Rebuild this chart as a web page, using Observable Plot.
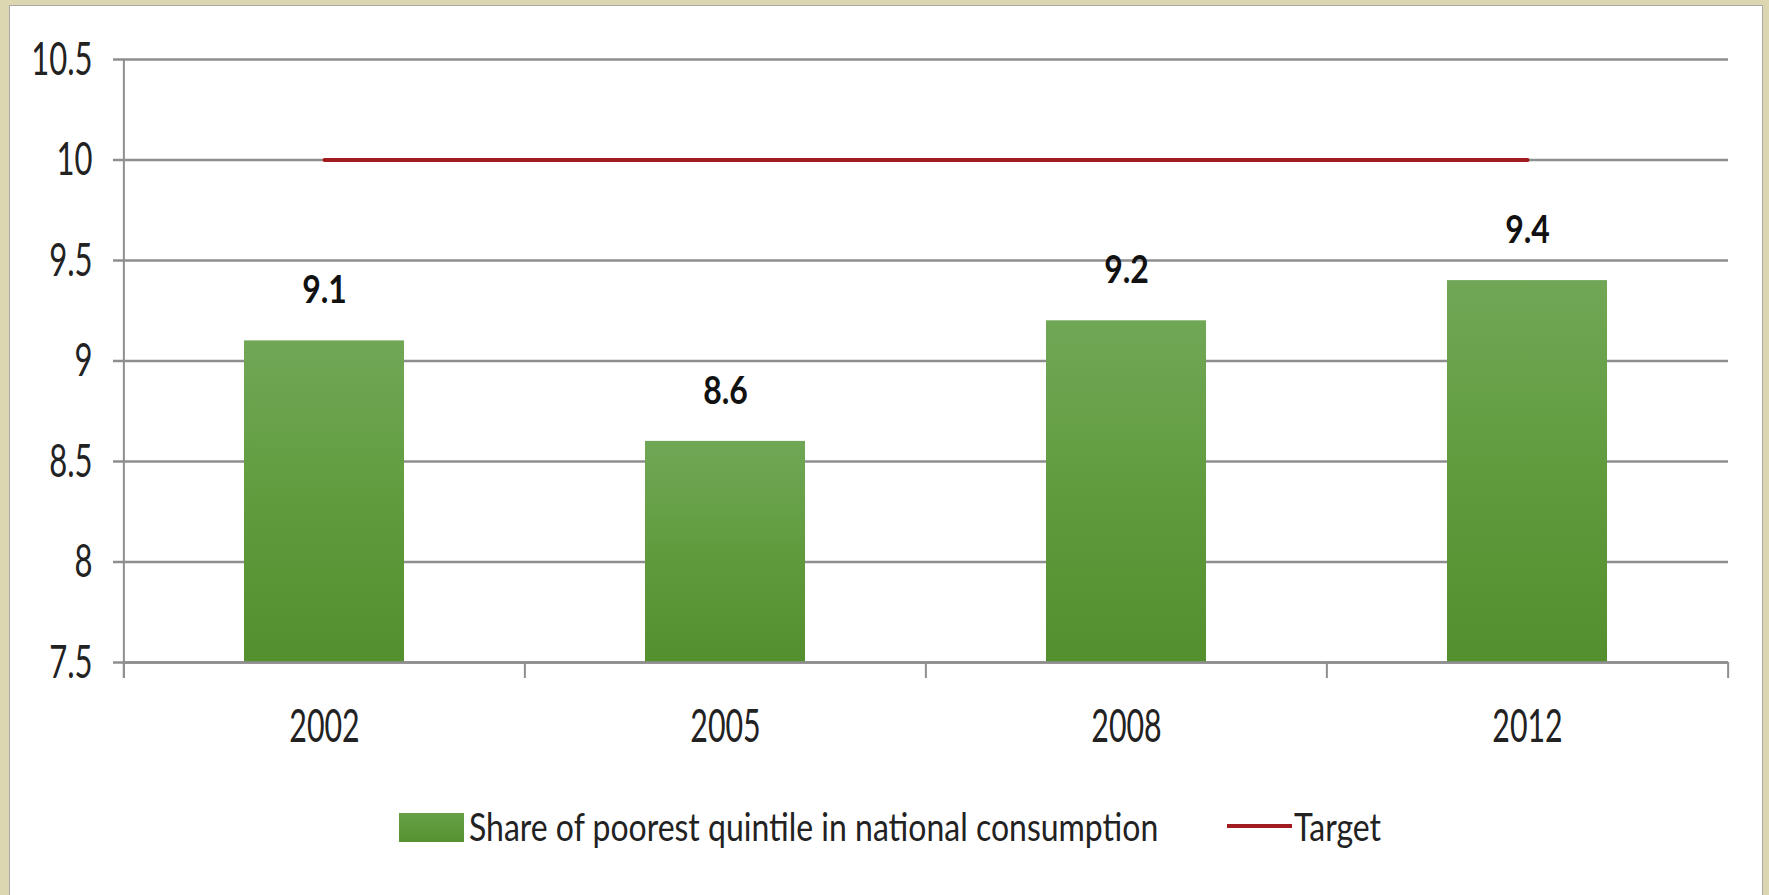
<!DOCTYPE html>
<html>
<head>
<meta charset="utf-8">
<script src="https://cdn.jsdelivr.net/npm/d3@7"></script>
<script src="https://cdn.jsdelivr.net/npm/@observablehq/plot@0.6"></script>
<style>
  html, body { margin: 0; padding: 0; }
  body { width: 1769px; height: 895px; background: #ddd7b1; overflow: hidden; position: relative; font-family: Lato, "Open Sans", sans-serif; }
  #panel { position: absolute; left: 9px; top: 5px; width: 1752px; height: 900px; background: #fff; border: 1px solid #a8a8a8; }
  #chart { position: absolute; left: 0; top: 0; }
  .leg { position: absolute; }
  .legtext { position: absolute; font-family: Lato, sans-serif; font-size: 39px; color: #222; white-space: nowrap; display: inline-block; transform-origin: left center; line-height: 1; }
</style>
</head>
<body>
<div id="panel">
  <div id="chart"></div>
</div>
<script>
// ---- data ----
const years = ["2002", "2005", "2008", "2012"];
const shares = [9.1, 8.6, 9.2, 9.4];
const targets = [10, 10, 10, 10];
const yTicks = [7.5, 8, 8.5, 9, 9.5, 10, 10.5];
const yDomain = [7.5, 10.5];
const seriesNames = ["Share of poorest quintile in national consumption", "Target"];

const rows = years.map((year, i) => ({year, share: shares[i], target: targets[i]}));

const W = 1752, H = 780;
const mL = 113, mR = 34, mT = 53, mB = 124;
const step = (W - mL - mR) / years.length;
const gridColor = "#8e8e8e";

const svg = Plot.plot({
  width: W, height: H,
  marginLeft: mL, marginRight: mR, marginTop: mT, marginBottom: mB,
  style: {background: "transparent", fontFamily: "Lato, sans-serif", color: "#222"},
  x: {domain: years, paddingInner: 0.6, paddingOuter: 0.3, label: null},
  y: {domain: yDomain, label: null},
  marks: [
    Plot.gridY(yTicks, {stroke: gridColor, strokeOpacity: 1, strokeWidth: 2.5}),
    Plot.axisY(yTicks, {tickSize: 10, tickPadding: 21, tickFormat: d => String(d), fontSize: 47, stroke: gridColor, strokeWidth: 2.5, fill: "#222", label: null}),
    Plot.axisX({tickSize: 0, tickPadding: 47, fontSize: 46, fill: "#222", label: null}),
    // left axis line
    Plot.ruleX([years[0]], {x: d => d, dx: -step / 2, y1: yDomain[1], y2: yDomain[0], insetBottom: -16, stroke: gridColor, strokeWidth: 2}),
    // category boundary ticks
    Plot.ruleX(years, {x: d => d, dx: -step / 2, y1: yDomain[0], y2: yDomain[0], insetBottom: -16, stroke: gridColor, strokeWidth: 2}),
    Plot.ruleX([years[years.length - 1]], {x: d => d, dx: step / 2, y1: yDomain[0], y2: yDomain[0], insetBottom: -16, stroke: gridColor, strokeWidth: 2}),
    Plot.barY(rows, {x: "year", y1: yDomain[0], y2: "share", fill: "url(#barGrad)"}),
    Plot.ruleY([yDomain[0]], {stroke: gridColor, strokeWidth: 2.5}),
    Plot.lineY(rows, {x: "year", y: "target", stroke: "#a11c20", strokeWidth: 4}),
    Plot.text(rows, {x: "year", y: "share", text: d => d.share.toFixed(1), dy: -50, fontSize: 39, fontWeight: "bold", fill: "#111"})
  ]
});

// gradient for bars
const ns = "http://www.w3.org/2000/svg";
const defs = document.createElementNS(ns, "defs");
defs.innerHTML = `<linearGradient id="barGrad" x1="0" y1="0" x2="0" y2="1">
  <stop offset="0" stop-color="#70a756"/>
  <stop offset="0.5" stop-color="#609c3e"/>
  <stop offset="1" stop-color="#538f2d"/>
</linearGradient>`;
svg.insertBefore(defs, svg.firstChild);

// condense text horizontally to mimic the narrow typeface
svg.querySelectorAll("text").forEach(t => {
  const bold = t.closest("g") && (t.closest("g").getAttribute("font-weight") === "bold");
  const sx = bold ? 0.82 : 0.66;
  const tr = t.getAttribute("transform") || "";
  t.setAttribute("transform", tr + ` scale(${sx},1)`);
});

document.getElementById("chart").appendChild(svg);

// legend (positions relative to panel content origin at page (10,6))
const panel = document.getElementById("panel");
function addBox(left, top, w, h, color) {
  const d = document.createElement("div");
  d.className = "leg";
  Object.assign(d.style, {left: left + "px", top: top + "px", width: w + "px", height: h + "px", background: color});
  panel.appendChild(d);
}
function addText(left, top, txt, sx) {
  const s = document.createElement("span");
  s.className = "legtext";
  s.textContent = txt;
  Object.assign(s.style, {left: left + "px", top: top + "px", transform: `scaleX(${sx})`});
  panel.appendChild(s);
}
addBox(389, 807, 65, 29, "linear-gradient(#66a046, #56922f)");
addText(459, 801, seriesNames[0], 0.82);
addBox(1217, 818, 65, 4, "#a11c20");
addText(1284, 801, seriesNames[1], 0.82);
</script>
</body>
</html>
